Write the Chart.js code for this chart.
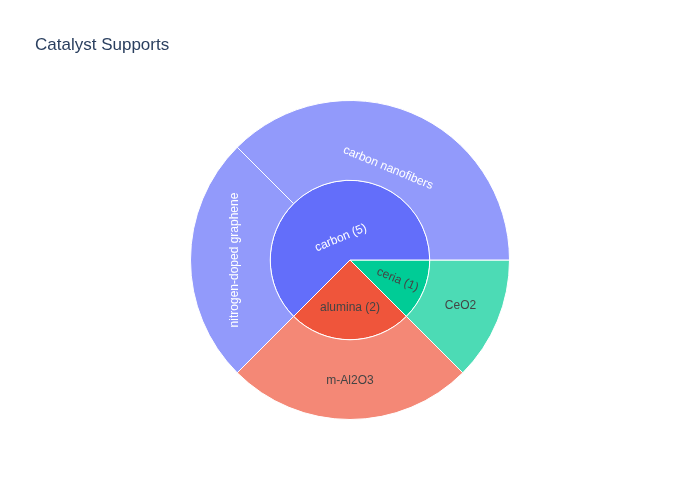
<!DOCTYPE html>
<html>
<head>
<meta charset="utf-8">
<script src="https://cdn.jsdelivr.net/npm/chart.js@4"></script>
<style>
  html, body { margin: 0; padding: 0; background: #fff; }
  #wrap { position: relative; width: 700px; height: 500px; }
</style>
</head>
<body>
<div id="wrap"><canvas id="c" width="700" height="500"></canvas></div>
<script>
// ---- data (listed clockwise from 3 o'clock) ----
const title = 'Catalyst Supports';
const parentLabels = ['ceria', 'alumina', 'carbon'];
const parentValues = [1, 2, 5];
const childLabels = ['CeO2', 'm-Al2O3', 'nitrogen-doped graphene', 'carbon nanofibers'];
const childValues = [1, 2, 2, 3];

// ---- styles ----
const parentColors = ['#00cc96', '#ef553b', '#636efa'];
const childColors = ['#4cdbb5', '#f48876', '#929afb', '#929afb'];
const parentText = ['#444444', '#444444', '#ffffff'];
const childText = ['#444444', '#444444', '#ffffff', '#ffffff'];
// label layout: orientation and radial position fraction within ring
const parentLabelStyle = [
  { orient: 'radial', frac: 0.645 },
  { orient: 'horizontal', frac: 0.6 },
  { orient: 'tangential', frac: 0.3 }
];
const childLabelStyle = [
  { orient: 'horizontal', frac: 0.5 },
  { orient: 'horizontal', frac: 0.51 },
  { orient: 'tangential', frac: 0.45 },
  { orient: 'tangential', frac: 0.25 }
];

const FONT = 'Arial, "Liberation Sans", sans-serif';

function norm(a) {
  while (a > Math.PI) a -= 2 * Math.PI;
  while (a <= -Math.PI) a += 2 * Math.PI;
  return a;
}
function upright(a) {
  a = norm(a);
  if (a > Math.PI / 2) a -= Math.PI;
  if (a < -Math.PI / 2) a += Math.PI;
  return a;
}

const labelPlugin = {
  id: 'sunLabels',
  afterDatasetsDraw(chart) {
    const ctx = chart.ctx;
    const sets = [
      { meta: chart.getDatasetMeta(0), texts: childLabels.map(l => l), colors: childText, styles: childLabelStyle },
      { meta: chart.getDatasetMeta(1), texts: parentLabels.map((l, i) => l + ' (' + parentValues[i] + ')'), colors: parentText, styles: parentLabelStyle }
    ];
    ctx.save();
    ctx.font = '12px ' + FONT;
    ctx.textAlign = 'center';
    ctx.textBaseline = 'middle';
    sets.forEach(s => {
      s.meta.data.forEach((arc, i) => {
        const p = arc.getProps(['x', 'y', 'startAngle', 'endAngle', 'innerRadius', 'outerRadius'], true);
        const mid = (p.startAngle + p.endAngle) / 2;
        const st = s.styles[i];
        const r = p.innerRadius + (p.outerRadius - p.innerRadius) * st.frac;
        const x = p.x + r * Math.cos(mid);
        const y = p.y + r * Math.sin(mid);
        let rot = 0;
        if (st.orient === 'tangential') rot = upright(mid + Math.PI / 2);
        else if (st.orient === 'radial') rot = upright(mid);
        ctx.save();
        ctx.translate(x, y);
        ctx.rotate(rot);
        ctx.fillStyle = s.colors[i];
        ctx.fillText(s.texts[i], 0, 0);
        ctx.restore();
      });
    });
    ctx.restore();
    // title
    ctx.save();
    ctx.font = '17px ' + FONT;
    ctx.fillStyle = '#2a3f5f';
    ctx.textAlign = 'left';
    ctx.textBaseline = 'middle';
    ctx.fillText(title, 35, 45);
    ctx.restore();
  }
};

new Chart(document.getElementById('c'), {
  type: 'doughnut',
  data: {
    labels: childLabels,
    datasets: [
      { data: childValues, backgroundColor: childColors, borderColor: '#ffffff', borderWidth: 1, hoverOffset: 0 },
      { data: parentValues, backgroundColor: parentColors, borderColor: '#ffffff', borderWidth: 1, hoverOffset: 0 }
    ]
  },
  options: {
    responsive: false,
    animation: false,
    cutout: 0,
    rotation: 90,
    layout: { padding: { top: 100, bottom: 80, left: 190, right: 190 } },
    plugins: {
      legend: { display: false },
      tooltip: { enabled: false },
      title: { display: false }
    }
  },
  plugins: [labelPlugin]
});
</script>
</body>
</html>
